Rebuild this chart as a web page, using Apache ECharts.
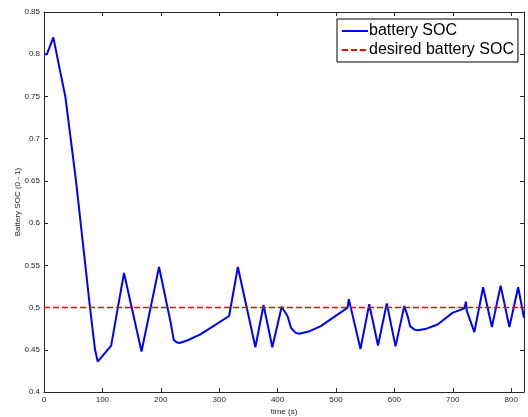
<!DOCTYPE html>
<html>
<head>
<meta charset="utf-8">
<script src="https://cdn.jsdelivr.net/npm/echarts@6/dist/echarts.min.js"></script>
<style>
  html, body { margin: 0; padding: 0; background: #fff; }
  #chart { width: 528px; height: 417px; }
</style>
</head>
<body>
<div id="chart"></div>
<script>
// time (s) and battery state of charge
var timeSec = [0, 5, 16, 27, 36.5, 45.7, 54.8, 62.8, 70.8, 78.8, 87.4, 92, 115, 137, 167, 197, 217, 222, 227, 232, 245, 267, 290, 317,
  332, 362, 376, 391, 407, 417, 423, 431, 437, 455, 474, 497, 520, 522, 542, 557, 572, 587, 602, 617, 623, 627, 634, 640,
  655, 674, 700, 712, 720, 722.5, 724, 737, 752, 767, 782, 797, 812, 822];
var socValues = [0.8, 0.8, 0.82, 0.782, 0.75, 0.70, 0.65, 0.60, 0.55, 0.50, 0.45, 0.436, 0.455, 0.541, 0.448, 0.548, 0.482, 0.462, 0.459, 0.458, 0.461, 0.468, 0.478, 0.490,
  0.548, 0.453, 0.503, 0.453, 0.501, 0.49, 0.476, 0.47, 0.469, 0.472, 0.478, 0.489, 0.5, 0.51, 0.451, 0.504, 0.455, 0.505, 0.454, 0.502, 0.489, 0.478, 0.474, 0.473,
  0.475, 0.48, 0.494, 0.497, 0.499, 0.507, 0.496, 0.471, 0.524, 0.477, 0.526, 0.477, 0.524, 0.488];
var desiredTime = [0, 822];
var desiredSoc = [0.5, 0.5];

var xTicks = { min: 0, max: 822, interval: 100 };
var yTicks = { min: 0.4, max: 0.85, interval: 0.05 };

var socData = timeSec.map(function (t, i) { return [t, socValues[i]]; });
var desiredData = desiredTime.map(function (t, i) { return [t, desiredSoc[i]]; });

var axisColor = '#262626';
var font = 'Liberation Sans, Arial, Helvetica, sans-serif';

function makeAxis(extra) {
  var base = {
    type: 'value',
    axisLine: { show: true, onZero: false, lineStyle: { color: axisColor, width: 1 } },
    axisTick: { show: true, inside: true, length: 4, lineStyle: { color: axisColor } },
    splitLine: { show: false },
    axisLabel: { show: false }
  };
  return Object.assign(base, extra);
}

var chart = echarts.init(document.getElementById('chart'));
chart.setOption({
  animation: false,
  backgroundColor: '#fff',
  grid: { left: 44, right: 4, top: 12, bottom: 25, containLabel: false, outerBoundsMode: 'none' },
  xAxis: [
    makeAxis({
      position: 'bottom', min: xTicks.min, max: xTicks.max, interval: xTicks.interval,
      name: 'time (s)', nameLocation: 'middle', nameGap: 16, nameMoveOverlap: false,
      nameTextStyle: { color: axisColor, fontSize: 8, fontFamily: font },
      axisLabel: { show: true, color: axisColor, fontSize: 8, fontFamily: font, margin: 4, showMaxLabel: false }
    }),
    makeAxis({ position: 'top', min: xTicks.min, max: xTicks.max, interval: xTicks.interval })
  ],
  yAxis: [
    makeAxis({
      position: 'left', min: yTicks.min, max: yTicks.max, interval: yTicks.interval,
      name: 'Battery SOC (0 - 1)', nameLocation: 'middle', nameGap: 22, nameMoveOverlap: false,
      nameTextStyle: { color: axisColor, fontSize: 8, fontFamily: font },
      axisLabel: { show: true, color: axisColor, fontSize: 8, fontFamily: font, margin: 4 }
    }),
    makeAxis({ position: 'right', min: yTicks.min, max: yTicks.max, interval: yTicks.interval })
  ],
  legend: {
    orient: 'vertical',
    left: 337,
    top: 19,
    backgroundColor: '#fff',
    borderColor: '#000',
    borderWidth: 1,
    borderRadius: 0,
    padding: [4, 4, 4, 4],
    itemGap: 3,
    itemWidth: 26,
    itemHeight: 16,
    itemStyle: { opacity: 0 },
    textStyle: { color: '#000', fontSize: 16, fontFamily: font, padding: [0, 0, 0, -4] },
    data: ['battery SOC', 'desired battery SOC']
  },
  series: [
    {
      name: 'battery SOC',
      type: 'line',
      data: socData,
      showSymbol: false,
      symbol: 'none',
      lineStyle: { color: '#0000ff', width: 2 },
      itemStyle: { color: '#0000ff' }
    },
    {
      name: 'desired battery SOC',
      type: 'line',
      data: desiredData,
      showSymbol: false,
      symbol: 'none',
      lineStyle: { color: '#ff0000', width: 1.5, type: [6, 3] },
      itemStyle: { color: '#ff0000' }
    }
  ]
});
</script>
</body>
</html>
